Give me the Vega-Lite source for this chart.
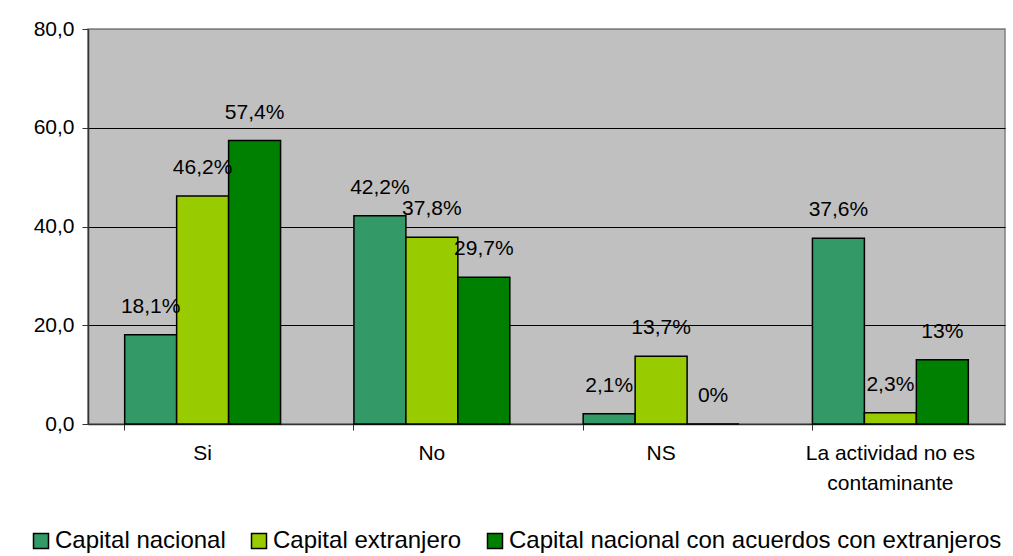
{
  "$schema": "https://vega.github.io/schema/vega-lite/v6.json",
  "width": 917,
  "height": 395,
  "autosize": "none",
  "padding": {"left": 88, "top": 29, "right": 8, "bottom": 132},
  "background": "white",
  "data": {
    "values": [
      {"respuesta": "Si", "capital": "Capital nacional", "valor": 18.1, "etiqueta": "18,1%"},
      {"respuesta": "Si", "capital": "Capital extranjero", "valor": 46.2, "etiqueta": "46,2%"},
      {"respuesta": "Si", "capital": "Capital nacional con acuerdos con extranjeros", "valor": 57.4, "etiqueta": "57,4%"},
      {"respuesta": "No", "capital": "Capital nacional", "valor": 42.2, "etiqueta": "42,2%"},
      {"respuesta": "No", "capital": "Capital extranjero", "valor": 37.8, "etiqueta": "37,8%"},
      {"respuesta": "No", "capital": "Capital nacional con acuerdos con extranjeros", "valor": 29.7, "etiqueta": "29,7%"},
      {"respuesta": "NS", "capital": "Capital nacional", "valor": 2.1, "etiqueta": "2,1%"},
      {"respuesta": "NS", "capital": "Capital extranjero", "valor": 13.7, "etiqueta": "13,7%"},
      {"respuesta": "NS", "capital": "Capital nacional con acuerdos con extranjeros", "valor": 0, "etiqueta": "0%"},
      {"respuesta": "La actividad no es contaminante", "capital": "Capital nacional", "valor": 37.6, "etiqueta": "37,6%"},
      {"respuesta": "La actividad no es contaminante", "capital": "Capital extranjero", "valor": 2.3, "etiqueta": "2,3%"},
      {"respuesta": "La actividad no es contaminante", "capital": "Capital nacional con acuerdos con extranjeros", "valor": 13, "etiqueta": "13%"}
    ]
  },
  "encoding": {
    "x": {
      "field": "respuesta",
      "type": "nominal",
      "sort": ["Si", "No", "NS", "La actividad no es contaminante"],
      "scale": {"paddingInner": 0.32, "paddingOuter": 0.16},
      "axis": {
        "title": null,
        "labelAngle": 0,
        "labelFontSize": 21,
        "labelColor": "black",
        "labelPadding": 12,
        "labelLineHeight": 30,
        "labelLimit": 400,
        "labelExpr": "datum.label == 'La actividad no es contaminante' ? ['La actividad no es', 'contaminante'] : datum.label",
        "bandPosition": 0,
        "tickSize": 6,
        "tickColor": "#333333",
        "domainColor": "#333333",
        "domainWidth": 1.5,
        "grid": false
      }
    },
    "xOffset": {
      "field": "capital",
      "type": "nominal",
      "sort": ["Capital nacional", "Capital extranjero", "Capital nacional con acuerdos con extranjeros"],
      "scale": {"paddingInner": 0, "paddingOuter": 0}
    },
    "y": {
      "field": "valor",
      "type": "quantitative",
      "scale": {"domain": [0, 80], "nice": false},
      "axis": {
        "title": null,
        "values": [0, 20, 40, 60, 80],
        "labelExpr": "replace(format(datum.value, '.1f'), '.', ',')",
        "labelFontSize": 21,
        "labelColor": "black",
        "labelPadding": 8,
        "tickSize": 6,
        "tickColor": "#333333",
        "domainColor": "#333333",
        "domainWidth": 1.5,
        "grid": true,
        "gridColor": {"condition": {"test": "datum.value == 80", "value": "#808080"}, "value": "black"},
        "gridWidth": 1
      }
    }
  },
  "layer": [
    {
      "mark": {"type": "bar", "stroke": "black", "strokeWidth": 1.5},
      "encoding": {
        "color": {
          "field": "capital",
          "type": "nominal",
          "sort": ["Capital nacional", "Capital extranjero", "Capital nacional con acuerdos con extranjeros"],
          "scale": {
            "domain": ["Capital nacional", "Capital extranjero", "Capital nacional con acuerdos con extranjeros"],
            "range": ["#339966", "#99CC00", "#008000"]
          },
          "legend": {
            "title": null,
            "orient": "none",
            "direction": "horizontal",
            "legendX": -59,
            "legendY": 500,
            "symbolType": "square",
            "symbolSize": 225,
            "symbolStrokeColor": "black",
            "symbolStrokeWidth": 1.5,
            "symbolOpacity": 1,
            "labelFontSize": 24,
            "labelColor": "black",
            "labelOffset": 2,
            "labelLimit": 600,
            "columnPadding": 21
          }
        }
      }
    },
    {
      "mark": {"type": "text", "baseline": "alphabetic", "dy": -22, "fontSize": 21, "color": "black"},
      "encoding": {"text": {"field": "etiqueta"}}
    }
  ],
  "config": {
    "font": "Liberation Sans",
    "view": {"fill": "#C0C0C0", "stroke": "#808080", "strokeWidth": 1.5}
  }
}
